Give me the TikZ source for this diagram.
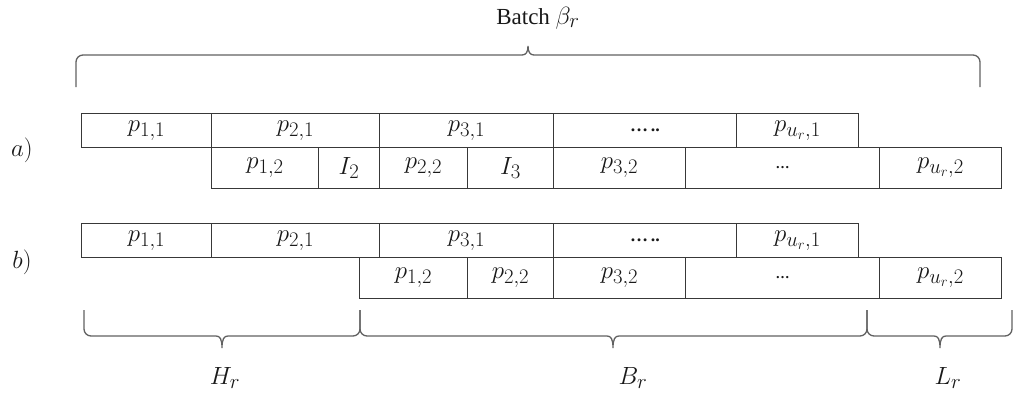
\documentclass[tikz,border=0pt]{standalone}
\usepackage{fontspec}
\setmainfont{Liberation Serif}
\begin{document}
\begin{tikzpicture}[x=1pt,y=-1pt,
  cell/.style={draw=black!78, line width=1pt, anchor=north west, inner sep=0pt,
    minimum width=#1, font=\fontsize{28}{32}\selectfont, text=black!90},
  top/.style={minimum height=34pt},
  bot/.style={minimum height=41pt},
  brace/.style={draw=black!62, line width=1.3pt},
  lbl/.style={font=\fontsize{28}{32}\selectfont, text=black!90, inner sep=0pt},
  txt/.style={font=\fontsize{23}{27}\selectfont, text=black!90, inner sep=0pt}]
\useasboundingbox (0,0) rectangle (1015,394);
% ---- row a, machine 1
\node[cell=130pt, top] (a11) at (81,113) {$p_{1,1}$};
\node[cell=168pt, top] (a21) at (211,113) {$p_{2,1}$};
\node[cell=174pt, top] (a31) at (379,113) {$p_{3,1}$};
\node[cell=183pt, top] (adots1) at (553,113) {\fontsize{18}{20}\selectfont\textbf{…\hspace{3pt}..}};
\node[cell=122pt, top] (au1) at (736,113) {$p_{u_r,1}$};
% ---- row a, machine 2
\node[cell=107pt, bot] (a12) at (211,147) {$p_{1,2}$};
\node[cell=61pt, bot] (aI2) at (318,147) {$I_2$};
\node[cell=88pt, bot] (a22) at (379,147) {$p_{2,2}$};
\node[cell=86pt, bot] (aI3) at (467,147) {$I_3$};
\node[cell=132pt, bot] (a32) at (553,147) {$p_{3,2}$};
\node[cell=194pt, bot] (adots2) at (685,147) {\fontsize{14}{16}\selectfont\textbf{…}};
\node[cell=122pt, bot] (au2) at (879,147) {$p_{u_r,2}$};
% ---- row b, machine 1
\node[cell=130pt, top] (b11) at (81,223) {$p_{1,1}$};
\node[cell=168pt, top] (b21) at (211,223) {$p_{2,1}$};
\node[cell=174pt, top] (b31) at (379,223) {$p_{3,1}$};
\node[cell=183pt, top] (bdots1) at (553,223) {\fontsize{18}{20}\selectfont\textbf{…\hspace{3pt}..}};
\node[cell=122pt, top] (bu1) at (736,223) {$p_{u_r,1}$};
% ---- row b, machine 2
\node[cell=108pt, bot] (b12) at (359,257) {$p_{1,2}$};
\node[cell=86pt, bot] (b22) at (467,257) {$p_{2,2}$};
\node[cell=132pt, bot] (b32) at (553,257) {$p_{3,2}$};
\node[cell=194pt, bot] (bdots2) at (685,257) {\fontsize{14}{16}\selectfont\textbf{…}};
\node[cell=122pt, bot] (bu2) at (879,257) {$p_{u_r,2}$};
% ---- row labels
\node[lbl] (la) at (22,150) {$a)$};
\node[lbl] (lb) at (22,262) {$b)$};
% ---- top brace
\draw[brace] (76,87) [rounded corners=7pt] -- (76,55) [sharp corners] -- (522,55)
  .. controls (526,55) and (528,52) .. (528,46)
  .. controls (528,52) and (530,55) .. (534,55) [rounded corners=7pt] -- (980,55) -- (980,87);
\node[txt] (batch) at (538,18) {Batch \fontsize{28}{32}\selectfont$\beta_r$};
% ---- bottom braces
\draw[brace] (84,310) [rounded corners=7pt] -- (84,336) [sharp corners] -- (216,336)
  .. controls (220,336) and (222,339) .. (222,348)
  .. controls (222,339) and (224,336) .. (228,336) [rounded corners=7pt] -- (360,336) -- (360,310);
\draw[brace] (360,310) [rounded corners=7pt] -- (360,336) [sharp corners] -- (607,336)
  .. controls (611,336) and (613,339) .. (613,348)
  .. controls (613,339) and (615,336) .. (619,336) [rounded corners=7pt] -- (867,336) -- (867,310);
\draw[brace] (867,310) [rounded corners=7pt] -- (867,336) [sharp corners] -- (934,336)
  .. controls (938,336) and (940,339) .. (940,348)
  .. controls (940,339) and (942,336) .. (946,336) [rounded corners=7pt] -- (1012,336) -- (1012,310);
\node[lbl] (Hr) at (225,378) {$H_r$};
\node[lbl] (Br) at (633,378) {$B_r$};
\node[lbl] (Lr) at (948,378) {$L_r$};
\end{tikzpicture}
\end{document}
